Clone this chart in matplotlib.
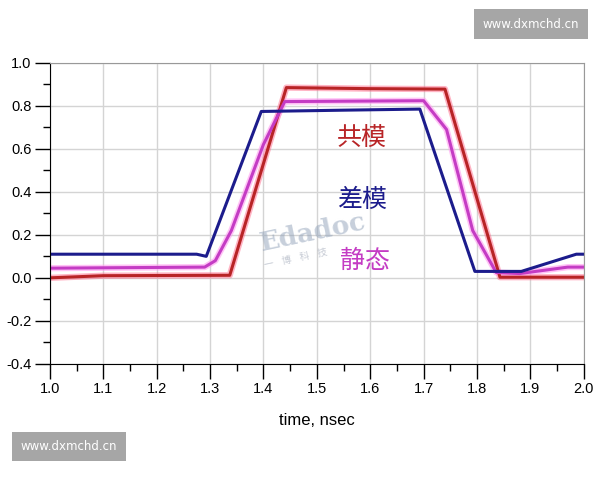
import matplotlib
matplotlib.use("Agg")
import matplotlib.pyplot as plt
from matplotlib.ticker import MultipleLocator

plt.rcParams['font.family'] = ['Liberation Sans', 'Noto Sans CJK SC']

# waveforms (time in ns, amplitude)
red_t = [1.0, 1.1, 1.337, 1.443, 1.60, 1.74, 1.843, 2.0]
red_v = [0.0, 0.01, 0.012, 0.885, 0.88, 0.878, 0.003, 0.003]

pink_t = [1.0, 1.29, 1.31, 1.34, 1.40, 1.44, 1.70, 1.743, 1.792, 1.836, 1.88, 1.97, 2.0]
pink_v = [0.045, 0.05, 0.08, 0.22, 0.62, 0.82, 0.824, 0.69, 0.22, 0.025, 0.02, 0.05, 0.05]

blue_t = [1.0, 1.275, 1.293, 1.396, 1.55, 1.693, 1.796, 1.883, 1.986, 2.0]
blue_v = [0.11, 0.11, 0.10, 0.774, 0.78, 0.785, 0.03, 0.03, 0.11, 0.11]

labels = ['共模', '差模', '静态']
label_colors = ['#b82426', '#1c1c8c', '#c43cc4']

fig = plt.figure(figsize=(6, 4.8), dpi=100)
ax = fig.add_axes([0.083, 0.242, 0.89, 0.627])

# faint company watermark in the middle (sits under the text)
ax.text(1.39, 0.21, 'Edadoc', color='#8fa0b8', alpha=0.5, fontsize=19, family='DejaVu Serif',
        fontweight='bold', rotation=12, ha='left', va='center')
ax.text(1.40, 0.09, '一    博    科    技', color='#a0a8b8', alpha=0.6, fontsize=7,
        family='Noto Sans CJK SC', rotation=12, ha='left', va='center')

# soft halo under the lines, like the blurred screenshot
ax.plot(red_t, red_v, color='#ff6a8a', lw=4.5, alpha=0.5, solid_joinstyle='round')
ax.plot(pink_t, pink_v, color='#ff9cf0', lw=4.5, alpha=0.6, solid_joinstyle='round')
ax.plot(red_t, red_v, color='#b82426', lw=2.2)
ax.plot(pink_t, pink_v, color='#c43cc4', lw=2.2)
ax.plot(blue_t, blue_v, color='#1c1c8c', lw=2.2)

ax.set_xlim(1.0, 2.0)
ax.set_ylim(-0.4, 1.0)
ax.xaxis.set_major_locator(MultipleLocator(0.1))
ax.xaxis.set_minor_locator(MultipleLocator(0.05))
ax.yaxis.set_major_locator(MultipleLocator(0.2))
ax.yaxis.set_minor_locator(MultipleLocator(0.1))
ax.set_xticklabels([f'{v:.1f}' for v in ax.get_xticks()])
ax.set_yticklabels([f'{v:.1f}' for v in ax.get_yticks()])
ax.tick_params(which='major', direction='out', length=11, width=1, labelsize=10.5, pad=2)
ax.tick_params(which='minor', direction='out', length=5, width=1)
ax.grid(True, which='major', color='#d4d4d4', lw=1)
ax.set_axisbelow(True)
for s in ['top', 'right']:
    ax.spines[s].set_color('#999999')
ax.set_xlabel('time, nsec', fontsize=12, labelpad=12)

# legend-like annotations
ax.text(1.585, 0.645, labels[0], color=label_colors[0], fontsize=18, ha='center', va='center',
        family='Noto Sans CJK SC')
ax.text(1.585, 0.36, labels[1], color=label_colors[1], fontsize=18, ha='center', va='center',
        family='Noto Sans CJK SC')
ax.text(1.59, 0.08, labels[2], color=label_colors[2], fontsize=18, ha='center', va='center',
        family='Noto Sans CJK SC')

# site watermarks
fig.text(0.885, 0.95, 'www.dxmchd.cn', color='white', fontsize=8.5, ha='center', va='center',
         family='DejaVu Sans', bbox=dict(boxstyle='square,pad=0.7', fc='#a6a6a6', ec='none'))
fig.text(0.115, 0.07, 'www.dxmchd.cn', color='white', fontsize=8.5, ha='center', va='center',
         family='DejaVu Sans', bbox=dict(boxstyle='square,pad=0.7', fc='#a6a6a6', ec='none'))

fig.savefig('out.png', dpi=100)
